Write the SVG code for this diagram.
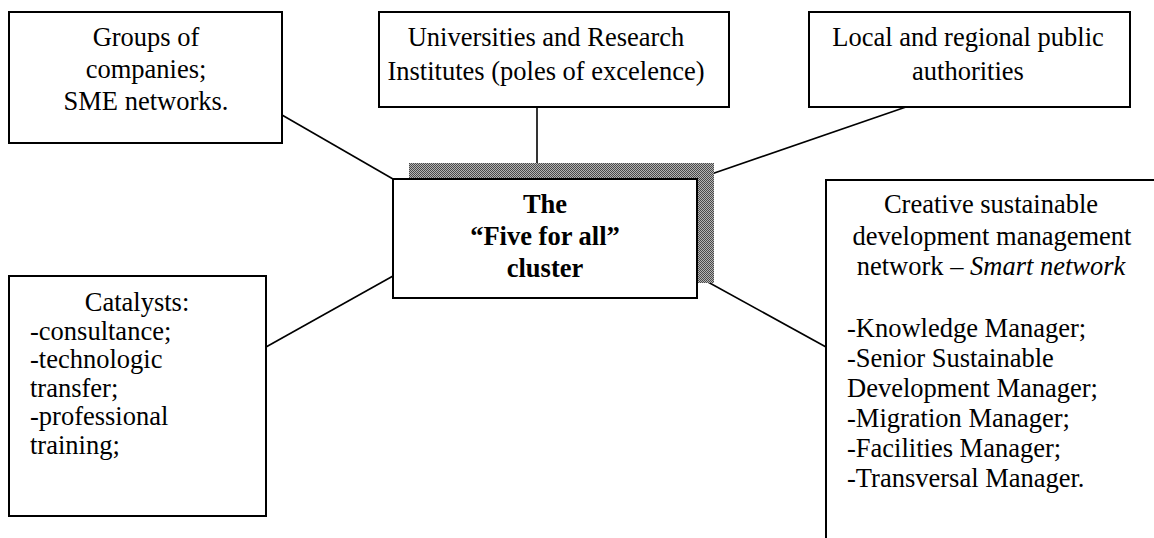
<svg xmlns="http://www.w3.org/2000/svg" width="1154" height="538" viewBox="0 0 1154 538">
  <defs>
    <!-- fine halftone used for the drop shadow of the central box -->
    <pattern id="dots" width="2" height="2" patternUnits="userSpaceOnUse">
      <rect width="2" height="2" fill="#b4b4b4"/>
      <rect x="0" y="0" width="1" height="1" fill="#4a4a4a"/>
      <rect x="1" y="1" width="1" height="1" fill="#4a4a4a"/>
    </pattern>
  </defs>
  <style>
    .box { fill: #ffffff; stroke: #000000; stroke-width: 2; }
    .link { stroke: #000000; stroke-width: 1.6; fill: none; }
    .t { font-family: "Liberation Serif", "Times New Roman", serif; font-size: 26.5px; fill: #000000; }
    .c { text-anchor: middle; }
    .b { font-weight: bold; }
  </style>
  <rect width="1154" height="538" fill="#ffffff"/>

  <!-- connectors -->
  <g id="connectors">
    <line class="link" x1="282" y1="115" x2="393" y2="179"/>
    <line class="link" x1="537" y1="107" x2="537" y2="179"/>
    <line class="link" x1="906" y1="107" x2="697" y2="179"/>
    <line class="link" x1="266" y1="347" x2="393" y2="276"/>
    <line class="link" x1="697" y1="276" x2="826" y2="347"/>
  </g>

  <g id="node-companies">
    <rect class="box" x="9" y="12" width="273" height="131"/>
    <text class="t c" x="146" y="46">Groups of</text>
    <text class="t c" x="146" y="78">companies;</text>
    <text class="t c" x="146" y="110">SME networks.</text>
  </g>

  <g id="node-universities">
    <rect class="box" x="379" y="12" width="350" height="95"/>
    <text class="t c" x="546" y="46">Universities and Research</text>
    <text class="t c" x="546" y="80">Institutes (poles of excelence)</text>
  </g>

  <g id="node-authorities">
    <rect class="box" x="809" y="12" width="321" height="95"/>
    <text class="t c" x="968" y="46">Local and regional public</text>
    <text class="t c" x="968" y="80">authorities</text>
  </g>

  <g id="node-cluster">
    <rect x="409" y="163" width="305" height="120" fill="url(#dots)"/>
    <rect class="box" x="393" y="179" width="304" height="119"/>
    <text class="t c b" x="545" y="213">The</text>
    <text class="t c b" x="545" y="245">“Five for all”</text>
    <text class="t c b" x="545" y="277">cluster</text>
  </g>

  <g id="node-catalysts">
    <rect class="box" x="9" y="276" width="257" height="240"/>
    <text class="t c" x="137" y="311">Catalysts:</text>
    <text class="t" x="30" y="340">-consultance;</text>
    <text class="t" x="30" y="368">-technologic</text>
    <text class="t" x="30" y="397">transfer;</text>
    <text class="t" x="30" y="425">-professional</text>
    <text class="t" x="30" y="454">training;</text>
  </g>

  <g id="node-smart-network">
    <rect class="box" x="826" y="180" width="340" height="370"/>
    <text class="t c" x="991" y="213">Creative sustainable</text>
    <text class="t c" x="992" y="245">development management</text>
    <text class="t c" x="991" y="275">network – <tspan font-style="italic">Smart network</tspan></text>
    <text class="t" x="847" y="337">-Knowledge Manager;</text>
    <text class="t" x="847" y="367">-Senior Sustainable</text>
    <text class="t" x="847" y="397">Development Manager;</text>
    <text class="t" x="847" y="427">-Migration Manager;</text>
    <text class="t" x="847" y="457">-Facilities Manager;</text>
    <text class="t" x="847" y="487">-Transversal Manager.</text>
  </g>
</svg>
